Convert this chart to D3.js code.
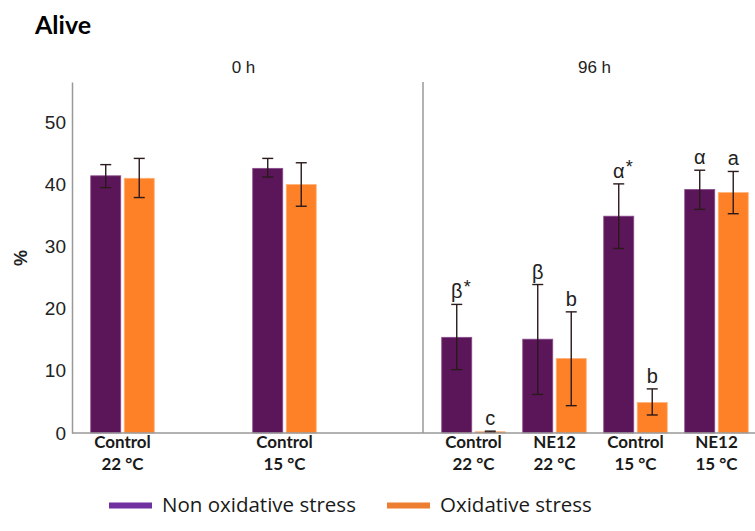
<!DOCTYPE html>
<html>
<head>
<meta charset="utf-8">
<script src="https://cdn.jsdelivr.net/npm/d3@7"></script>
<style>
  body { margin: 0; background: #fff; }
  svg { display: block; }
</style>
</head>
<body>
<div id="chart"></div>
<script>
// data
var timepoints = ["0 h", "96 h"];
var treatments = ["Control", "NE12", "Control", "NE12"];
var temps = ["22 °C", "22 °C", "15 °C", "15 °C"];
var seriesNames = ["Non oxidative stress", "Oxidative stress"];

// 0 h: only the controls were measured
var nonOx0 = [41.4, null, 42.6, null];
var nonOx0Lo = [39.5, null, 41.2, null];
var nonOx0Hi = [43.2, null, 44.2, null];
var ox0 = [41.0, null, 40.0, null];
var ox0Lo = [37.9, null, 36.5, null];
var ox0Hi = [44.2, null, 43.5, null];

// 96 h
var nonOx96 = [15.4, 15.1, 34.9, 39.2];
var nonOx96Lo = [10.2, 6.2, 29.7, 36.0];
var nonOx96Hi = [20.7, 23.9, 40.1, 42.3];
var ox96 = [0.2, 12.0, 4.9, 38.7];
var ox96Lo = [0.1, 4.4, 2.9, 35.3];
var ox96Hi = [0.3, 19.5, 7.1, 42.1];

// significance letters (96 h only)
var nonOx96Letters = ["β", "β", "α", "α"];
var nonOx96Stars = ["*", "", "*", ""];
var ox96Letters = ["c", "b", "b", "a"];

var yTicks = [0, 10, 20, 30, 40, 50];

// size and layout
var width = 755, height = 531;
var plotLeft = 72, plotTop = 82, plotBottom = 433;
var panelW = 351;

var barColors = ["#5a1659", "#fe8128"];
var legendColors = ["#7030a0", "#ed7d31"];

var svg = d3.select("#chart").append("svg")
  .attr("width", width)
  .attr("height", height);

// title
svg.append("text")
  .attr("x", 35).attr("y", 34)
  .attr("font-family", "Lato, 'Liberation Sans', sans-serif")
  .attr("font-weight", "bold")
  .attr("font-size", 25)
  .attr("fill", "#000")
  .text("Alive");

// scales
var yScale = d3.scaleLinear()
  .domain([0, 56.5])
  .range([plotBottom, plotTop]);

var panelScale = d3.scaleBand()
  .domain(timepoints)
  .range([plotLeft, plotLeft + panelW * 2])
  .padding(0);

var slotScale = d3.scaleBand()
  .domain(d3.range(treatments.length))
  .range([0, panelW])
  .paddingInner(0)
  .paddingOuter(0.1667)
  .align(0.37);

var seriesScale = d3.scaleBand()
  .domain(seriesNames)
  .range([0, slotScale.step()])
  .paddingInner(0.104)
  .paddingOuter(0.261);

// build rows for drawing
var panelData = [
  { tp: "0 h", vals: [nonOx0, ox0], lo: [nonOx0Lo, ox0Lo], hi: [nonOx0Hi, ox0Hi], letters: null },
  { tp: "96 h", vals: [nonOx96, ox96], lo: [nonOx96Lo, ox96Lo], hi: [nonOx96Hi, ox96Hi],
    letters: [nonOx96Letters, ox96Letters], stars: [nonOx96Stars, ["", "", "", ""]] }
];

var bars = [];
panelData.forEach(function(p) {
  seriesNames.forEach(function(s, si) {
    p.vals[si].forEach(function(v, i) {
      if (v === null) return;
      bars.push({
        tp: p.tp, slot: i, series: s, si: si, value: v,
        lo: p.lo[si][i], hi: p.hi[si][i],
        letter: p.letters ? p.letters[si][i] : null,
        star: p.stars ? p.stars[si][i] : ""
      });
    });
  });
});

function barX(d) {
  return panelScale(d.tp) + slotScale(d.slot) + seriesScale(d.series);
}
var bw = seriesScale.bandwidth();

// bars
svg.selectAll(".bar")
  .data(bars)
  .enter().append("rect")
  .attr("class", "bar")
  .attr("x", barX)
  .attr("width", bw)
  .attr("y", function(d) { return yScale(d.value); })
  .attr("height", function(d) { return plotBottom - yScale(d.value); })
  .attr("fill", function(d) { return barColors[d.si]; })
  .attr("stroke", function(d) { return d.si === 0 ? "#8a4a8c" : "#ffb27a"; })
  .attr("stroke-width", 0.8);

// error bars
var err = svg.selectAll(".err")
  .data(bars)
  .enter().append("g")
  .attr("class", "err")
  .attr("stroke", "#2a1a1a")
  .attr("stroke-width", 1.4);
err.append("line")
  .attr("x1", function(d) { return barX(d) + bw / 2; })
  .attr("x2", function(d) { return barX(d) + bw / 2; })
  .attr("y1", function(d) { return yScale(d.lo); })
  .attr("y2", function(d) { return yScale(d.hi); });
err.append("line")
  .attr("x1", function(d) { return barX(d) + bw / 2 - 5.5; })
  .attr("x2", function(d) { return barX(d) + bw / 2 + 5.5; })
  .attr("y1", function(d) { return yScale(d.hi); })
  .attr("y2", function(d) { return yScale(d.hi); });
err.append("line")
  .attr("x1", function(d) { return barX(d) + bw / 2 - 5.5; })
  .attr("x2", function(d) { return barX(d) + bw / 2 + 5.5; })
  .attr("y1", function(d) { return yScale(d.lo); })
  .attr("y2", function(d) { return yScale(d.lo); });

// significance letters
var lab = svg.selectAll(".sig")
  .data(bars.filter(function(d) { return d.letter; }))
  .enter().append("g")
  .attr("class", "sig")
  .attr("font-family", "'Liberation Sans', Arial, sans-serif")
  .attr("fill", "#222");
lab.append("text")
  .attr("x", function(d) { return barX(d) + bw / 2; })
  .attr("y", function(d) { return yScale(d.hi) - 6; })
  .attr("text-anchor", "middle")
  .attr("font-size", 20)
  .text(function(d) { return d.letter; });
lab.append("text")
  .attr("x", function(d) { return barX(d) + bw / 2 + 7; })
  .attr("y", function(d) { return yScale(d.hi) - 11; })
  .attr("font-size", 18)
  .text(function(d) { return d.star; });

// y axis
var yAxis = svg.append("g")
  .attr("transform", "translate(" + plotLeft + ",0)")
  .call(d3.axisLeft(yScale).tickValues(yTicks).tickSize(0).tickSizeOuter(0).tickPadding(6));
yAxis.select(".domain").attr("stroke", "#999").attr("stroke-width", 1.5);
yAxis.selectAll("text")
  .attr("font-family", "'Liberation Sans', Arial, sans-serif")
  .attr("font-size", 19)
  .attr("fill", "#222");

svg.append("text")
  .attr("transform", "translate(27,258) rotate(-90)")
  .attr("text-anchor", "middle")
  .attr("font-family", "'Liberation Sans', Arial, sans-serif")
  .attr("font-weight", "bold")
  .attr("font-size", 18)
  .attr("fill", "#222")
  .text("%");

// baseline and panel divider
svg.append("line")
  .attr("x1", plotLeft).attr("x2", width)
  .attr("y1", plotBottom).attr("y2", plotBottom)
  .attr("stroke", "#999").attr("stroke-width", 1.5);
svg.append("line")
  .attr("x1", panelScale("96 h")).attr("x2", panelScale("96 h"))
  .attr("y1", plotTop).attr("y2", plotBottom)
  .attr("stroke", "#999").attr("stroke-width", 1.5);

// panel headers
svg.selectAll(".panel-title")
  .data(timepoints)
  .enter().append("text")
  .attr("class", "panel-title")
  .attr("x", function(d) { return panelScale(d) + panelW / 2 - 4; })
  .attr("y", 73)
  .attr("text-anchor", "middle")
  .attr("font-family", "'Liberation Sans', Arial, sans-serif")
  .attr("font-size", 17)
  .attr("fill", "#222")
  .text(function(d) { return d; });

// category labels under each group
var cats = [];
panelData.forEach(function(p) {
  treatments.forEach(function(t, i) {
    if (p.vals[0][i] === null) return;
    cats.push({ tp: p.tp, slot: i, treat: t, temp: temps[i] });
  });
});
var catG = svg.selectAll(".cat")
  .data(cats)
  .enter().append("text")
  .attr("class", "cat")
  .attr("text-anchor", "middle")
  .attr("font-family", "Lato, 'Liberation Sans', sans-serif")
  .attr("font-weight", "bold")
  .attr("font-size", 17)
  .attr("fill", "#1a1a1a");
catG.append("tspan")
  .attr("x", function(d) { return panelScale(d.tp) + slotScale(d.slot) + slotScale.bandwidth() / 2; })
  .attr("y", 448)
  .text(function(d) { return d.treat; });
catG.append("tspan")
  .attr("x", function(d) { return panelScale(d.tp) + slotScale(d.slot) + slotScale.bandwidth() / 2; })
  .attr("y", 470)
  .text(function(d) { return d.temp; });

// legend
var legendX = [109, 387];
var leg = svg.selectAll(".legend")
  .data(seriesNames)
  .enter().append("g")
  .attr("class", "legend")
  .attr("transform", function(d, i) { return "translate(" + legendX[i] + ",0)"; });
leg.append("line")
  .attr("x1", 0).attr("x2", 43)
  .attr("y1", 505.5).attr("y2", 505.5)
  .attr("stroke", function(d, i) { return legendColors[i]; })
  .attr("stroke-width", 6);
leg.append("text")
  .attr("x", 53).attr("y", 512)
  .attr("font-family", "'Open Sans', Lato, sans-serif")
  .attr("font-size", 20.5)
  .attr("fill", "#1a1a1a")
  .text(function(d) { return d; });
</script>
</body>
</html>
